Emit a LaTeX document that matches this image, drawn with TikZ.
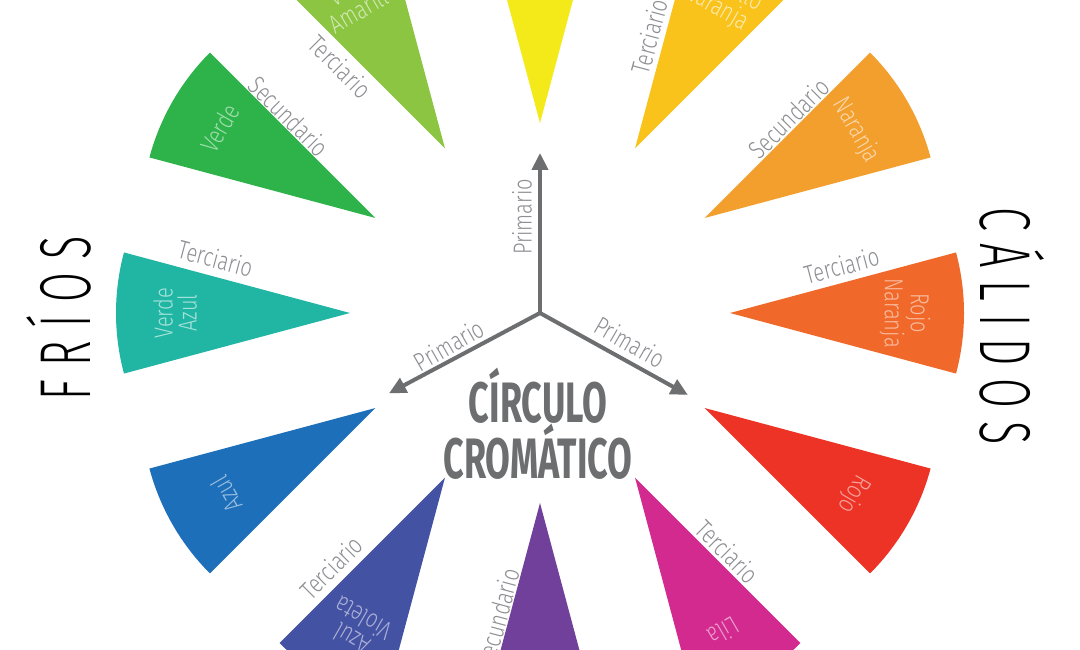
\documentclass[tikz,border=0pt]{standalone}
\usepackage{fontspec}
\usepackage{graphicx}
\usetikzlibrary{arrows.meta}
\newfontfamily\lblfont{Fira Sans Light}
\newfontfamily\ttlfont{Fira Sans}
\definecolor{cYel}{HTML}{F4EA1A}
\definecolor{cYelOr}{HTML}{F9C31C}
\definecolor{cOr}{HTML}{F39F2D}
\definecolor{cRedOr}{HTML}{F1692A}
\definecolor{cRed}{HTML}{EC3325}
\definecolor{cMag}{HTML}{D32A8F}
\definecolor{cVio}{HTML}{70409A}
\definecolor{cBluVio}{HTML}{4452A3}
\definecolor{cBlu}{HTML}{1E6FBA}
\definecolor{cTeal}{HTML}{20B6A3}
\definecolor{cGrn}{HTML}{2EB34B}
\definecolor{cYelGrn}{HTML}{8BC541}
\definecolor{arrgray}{HTML}{6D6E70}
\definecolor{lblgray}{HTML}{8E8F93}
\newcommand\colwedge[2]{\fill[#2] (#1:190pt) -- ++(#1-15:234pt) arc[start angle=#1-15, end angle=#1+15, radius=234pt] -- cycle;}
\newcommand\nx[1]{\scalebox{0.77}[1]{#1}}
\newcommand\tx[1]{\scalebox{0.63}[1]{#1}}
\newcommand\sx[1]{\scalebox{0.6}[1]{#1}}
\newcommand\spc{\hspace{22pt}}
\newcommand\spd{\hspace{21pt}}
\tikzset{
  inlbl/.style={font=\lblfont\fontsize{26}{24}\selectfont, align=center, inner sep=0pt},
  edlbl/.style={font=\lblfont\fontsize{26}{24}\selectfont, text=lblgray, inner sep=0pt},
  arr/.style={draw=arrgray, line width=4pt, -{Triangle[length=17pt,width=16pt]}},
  ttl/.style={font=\ttlfont\bfseries\fontsize{57}{50}\selectfont, text=arrgray, align=center, inner sep=0pt},
  side/.style={font=\lblfont\fontsize{72}{72}\selectfont, text=black, inner sep=0pt}
}
\begin{document}
\begin{tikzpicture}[x=1pt,y=1pt]
\useasboundingbox (0,0) rectangle (1080,650);
\clip (0,0) rectangle (1080,650);
\fill[white] (0,0) rectangle (1080,650);
\begin{scope}[shift={(540,337)}]
% wedges
\colwedge{90}{cYel}
\colwedge{60}{cYelOr}
\colwedge{30}{cOr}
\colwedge{0}{cRedOr}
\colwedge{-30}{cRed}
\colwedge{-60}{cMag}
\colwedge{-90}{cVio}
\colwedge{-120}{cBluVio}
\colwedge{-150}{cBlu}
\colwedge{180}{cTeal}
\colwedge{150}{cGrn}
\colwedge{120}{cYelGrn}
% inner colour names
\node[inlbl, text=cYelOr!35!white, rotate=-30] (nYelOr) at (60:365pt) {\nx{Amarillo}\\\nx{Naranja}};
\node[inlbl, text=cOr!40!white, rotate=-60] (nOr) at (30:365pt) {\nx{Naranja}};
\node[inlbl, text=cRedOr!45!white, rotate=-90] (nRedOr) at (0:365pt) {\nx{Rojo}\\\nx{Naranja}};
\node[inlbl, text=cRed!45!white, rotate=-120] (nRed) at (-30:362pt) {\nx{Rojo}};
\node[inlbl, text=cMag!45!white, rotate=-150] (nMag) at (-60:368pt) {\nx{Lila}};
\node[inlbl, text=cBluVio!45!white, rotate=150] (nBluVio) at (-120:365pt) {\nx{Azul}\\\nx{Violeta}};
\node[inlbl, text=cBlu!45!white, rotate=120] (nBlu) at (-150:362pt) {\nx{Azul}};
\node[inlbl, text=cTeal!40!white, rotate=90] (nTeal) at (180:365pt) {\nx{Verde}\\\nx{Azul}};
\node[inlbl, text=cGrn!45!white, rotate=60] (nGrn) at (150:370pt) {\nx{Verde}};
\node[inlbl, text=cYelGrn!40!white, rotate=30] (nYelGrn) at (120:365pt) {\nx{Verde}\\\nx{Amarillo}};
% edge labels
\path (60:190pt) ++(75:112pt) ++(165:15pt) node[edlbl, rotate=75] (eYelOr) {\nx{Terciario}};
\path (30:190pt) ++(45:130pt) ++(135:11pt) node[edlbl, rotate=45] (eOr) {\nx{Secundario}};
\path (0:190pt) ++(15:120pt) ++(105:17pt) node[edlbl, rotate=15] (eRedOr) {\nx{Terciario}};
\path (-60:190pt) ++(-45:118pt) ++(45:13pt) node[edlbl, rotate=-45] (eMag) {\nx{Terciario}};
\path (-90:190pt) ++(-105:122pt) ++(165:11pt) node[edlbl, rotate=75] (eVio) {\nx{Secundario}};
\path (-120:190pt) ++(-135:144pt) ++(135:17pt) node[edlbl, rotate=45] (eBluVio) {\nx{Terciario}};
\path (180:190pt) ++(165:144pt) ++(75:18pt) node[edlbl, rotate=-15] (eTeal) {\nx{Terciario}};
\path (150:190pt) ++(135:133pt) ++(45:11pt) node[edlbl, rotate=-45] (eGrn) {\nx{Secundario}};
\path (120:190pt) ++(135:132pt) ++(225:16pt) node[edlbl, rotate=-45] (eYelGrn) {\nx{Terciario}};
% arrows
\coordinate (O) at (0,0);
\coordinate (tU) at (90:160pt);
\coordinate (tL) at (208:171pt);
\coordinate (tR) at (-29:169pt);
\draw[arr] (O) -- (tU);
\draw[arr] (O) -- (tL);
\draw[arr] (O) -- (tR);
\node[edlbl, rotate=90] (pU) at (-18pt,96pt) {\nx{Primario}};
\node[edlbl, rotate=30] (pL) at (-91pt,-32pt) {\nx{Primario}};
\node[edlbl, rotate=-30] (pR) at (90pt,-29pt) {\nx{Primario}};
% title
\node[ttl] (title) at (-2pt,-111pt) {\tx{CÍRCULO}\\\tx{CROMÁTICO}};
% side words
\node[side, rotate=90] (frios) at (-481pt,-5pt) {\sx{F\spc R\spc Í\spc O\spc S}};
\node[side, rotate=-90] (calidos) at (472pt,-13pt) {\sx{C\spd Á\spd L\spd I\spd D\spd O\spd S}};
\end{scope}
\end{tikzpicture}
\end{document}
